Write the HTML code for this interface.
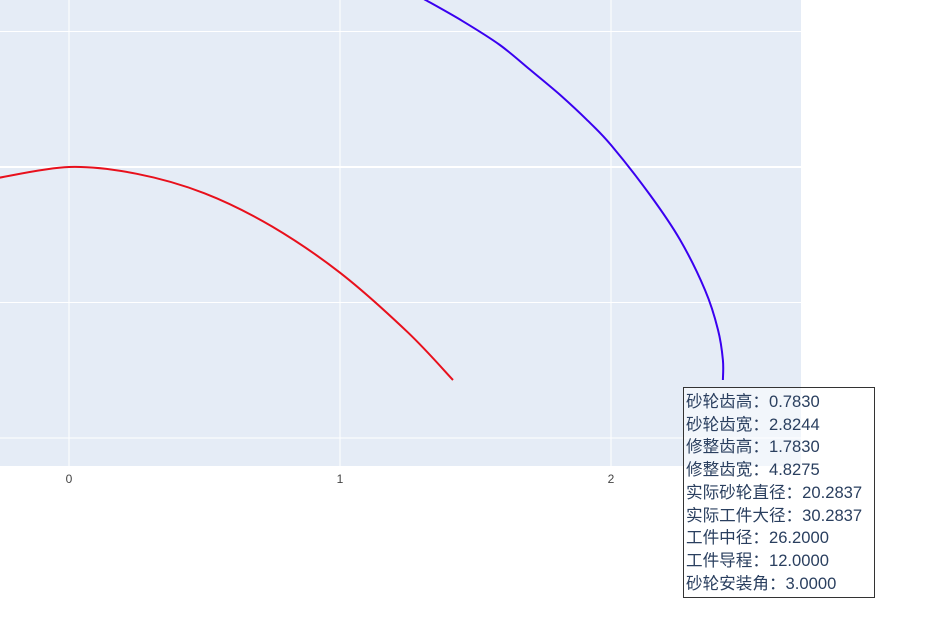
<!DOCTYPE html>
<html><head><meta charset="utf-8"><style>
body{margin:0;background:#fff;width:934px;height:644px;overflow:hidden;position:relative;font-family:"Liberation Sans","Noto Sans CJK SC",sans-serif}
#tip{position:absolute;left:683px;top:387px;width:192px;height:211px;border:1px solid #333;background:rgba(255,255,255,0.5);color:#2a3f5f;font-size:16.6px;line-height:22.7px;padding:3px 0 0 2px;box-sizing:border-box;white-space:nowrap}
</style></head><body>
<svg id="chart" width="934" height="644" style="position:absolute;left:0;top:0"></svg>
<div id="tip">
<div>砂轮齿高：0.7830</div>
<div>砂轮齿宽：2.8244</div>
<div>修整齿高：1.7830</div>
<div>修整齿宽：4.8275</div>
<div>实际砂轮直径：20.2837</div>
<div>实际工件大径：30.2837</div>
<div>工件中径：26.2000</div>
<div>工件导程：12.0000</div>
<div>砂轮安装角：3.0000</div>
</div>
<script>
const xTicks=[0,1,2];
const yTicks=[0.5,0,-0.5,-1];
const redX=[-0.26,0,0.25,0.5,0.75,1.0,1.25,1.417];
const redY=[-0.04,0,-0.025,-0.097,-0.22,-0.39,-0.61,-0.786];
const blueX=[1.30,1.45,1.59,1.70,1.812,1.91,2.0,2.144,2.255,2.347,2.395,2.413,2.413];
const blueY=[0.625,0.54,0.45,0.36,0.266,0.175,0.081,-0.103,-0.269,-0.454,-0.601,-0.712,-0.786];
const NS='http://www.w3.org/2000/svg';
const svg=document.getElementById('chart');
const sx=v=>69+v*271, sy=v=>167-v*271;
function mk(t,a){const e=document.createElementNS(NS,t);for(const k in a)e.setAttribute(k,a[k]);svg.appendChild(e);return e;}
const bg=mk('rect',{x:0,y:0,width:801,height:466,fill:'#e5ecf6'});


xTicks.forEach(t=>{
 const l=mk('line',{x1:sx(t),x2:sx(t),y1:0,y2:466,stroke:'#fff','stroke-width':1});
 
 
 const tx=mk('text',{x:sx(t),y:483,'text-anchor':'middle','font-size':12,fill:'#444','font-family':'Liberation Sans, sans-serif'});
 tx.textContent=t;
 
 
});
yTicks.forEach(t=>{
 const l=mk('line',{x1:0,x2:801,y1:sy(t),y2:sy(t),stroke:'#fff','stroke-width':t===0?2:1});
 
 
});
function path(xs,ys,c,name){
 const P=xs.map((x,i)=>[sx(x),sy(ys[i])]);
 let d='M'+P[0][0].toFixed(1)+','+P[0][1].toFixed(1);
 for(let i=0;i<P.length-1;i++){
  const p0=P[i-1]||P[i],p1=P[i],p2=P[i+1],p3=P[i+2]||P[i+1];
  const c1=[p1[0]+(p2[0]-p0[0])/6,p1[1]+(p2[1]-p0[1])/6];
  const c2=[p2[0]-(p3[0]-p1[0])/6,p2[1]-(p3[1]-p1[1])/6];
  d+='C'+c1.map(v=>v.toFixed(1))+' '+c2.map(v=>v.toFixed(1))+' '+p2.map(v=>v.toFixed(1));
 }
 const p=mk('path',{d:d,fill:'none',stroke:c,'stroke-width':2,'stroke-linejoin':'round'});
 
 
}
path(redX,redY,'#e8101c','red-curve');
path(blueX,blueY,'#3a00f0','blue-curve');
</script>
</body></html>
